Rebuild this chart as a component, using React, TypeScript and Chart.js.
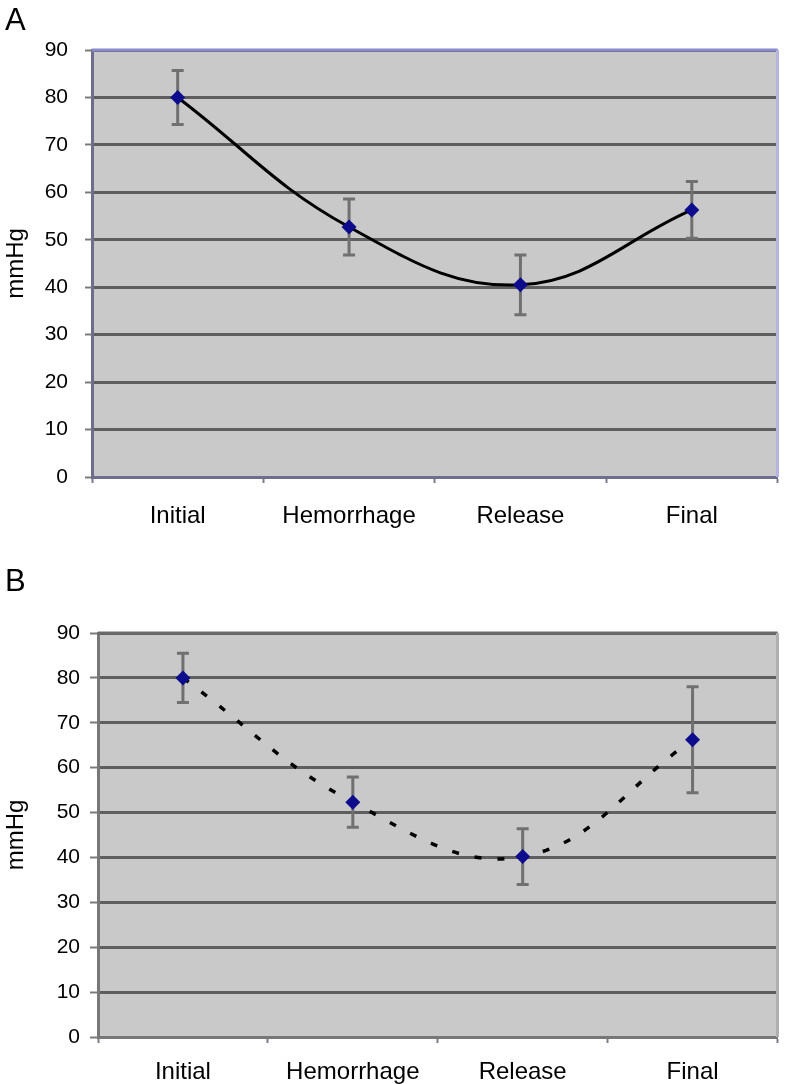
import React, { useEffect, useRef } from "react";
import { Chart, registerables } from "chart.js";
Chart.register(...registerables);

const categories = ["Initial", "Hemorrhage", "Release", "Final"];
const meanA = [80, 52.7, 40.5, 56.3];
const errA = [5.7, 5.9, 6.3, 6.0];
const meanB = [80, 52.3, 40.2, 66.2];
const errB = [5.5, 5.6, 6.2, 11.8];
const yMin = 0;
const yMax = 90;
const yStep = 10;
const yTitle = "mmHg";
const panelLabels = ["A", "B"];

const FONT = "'Liberation Sans', Arial, Helvetica, sans-serif";

const plotDeco = {
  id: "plotDeco",
  beforeDraw(chart: any, _args: any, opts: any) {
    const { ctx, chartArea: a } = chart;
    ctx.save();
    ctx.fillStyle = opts.bg;
    ctx.fillRect(a.left, a.top, a.right - a.left, a.bottom - a.top);
    ctx.restore();
  },
  beforeDatasetsDraw(chart: any, _args: any, opts: any) {
    const { ctx, chartArea: a } = chart;
    ctx.save();
    ctx.lineWidth = 3;
    ctx.strokeStyle = opts.topColor;
    ctx.beginPath();
    ctx.moveTo(a.left, a.top);
    ctx.lineTo(a.right, a.top);
    ctx.stroke();
    ctx.strokeStyle = opts.rightColor;
    ctx.beginPath();
    ctx.moveTo(a.right, a.top);
    ctx.lineTo(a.right, a.bottom);
    ctx.stroke();
    const meta = chart.getDatasetMeta(0);
    const ys = chart.scales.y;
    const means: number[] = chart.data.datasets[0].data;
    const errs: number[] = opts.errors;
    ctx.strokeStyle = "#707070";
    ctx.lineWidth = 3;
    const cap = 6;
    meta.data.forEach((pt: any, i: number) => {
      const x = pt.x;
      const yT = ys.getPixelForValue(means[i] + errs[i]);
      const yB = ys.getPixelForValue(means[i] - errs[i]);
      ctx.beginPath();
      ctx.moveTo(x, yT);
      ctx.lineTo(x, yB);
      ctx.moveTo(x - cap, yT);
      ctx.lineTo(x + cap, yT);
      ctx.moveTo(x - cap, yB);
      ctx.lineTo(x + cap, yB);
      ctx.stroke();
    });
    ctx.restore();
  },
};

type PanelProps = {
  means: number[];
  errors: number[];
  dashed: boolean;
  width: number;
  height: number;
  padTop: number;
  yAxisWidth: number;
  xAxisHeight: number;
  tickLen: number;
  tickPad: number;
  xLabelPad: number;
  axisColor: string;
  topColor: string;
  rightColor: string;
};

function Panel(p: PanelProps) {
  const ref = useRef<HTMLCanvasElement | null>(null);
  useEffect(() => {
    if (!ref.current) return;
    const chart = new Chart(ref.current, {
      type: "line",
      data: {
        labels: categories,
        datasets: [
          {
            data: p.means,
            borderColor: "#000000",
            borderWidth: p.dashed ? 3.5 : 3,
            borderDash: p.dashed ? [7, 16] : [],
            tension: 0.4,
            pointStyle: "rectRot",
            pointRadius: 7.5,
            pointBackgroundColor: "#0c0c8c",
            pointBorderColor: "#0c0c8c",
            pointBorderWidth: 0,
          },
        ],
      },
      options: {
        responsive: false,
        animation: false,
        layout: { padding: { top: p.padTop, right: 7, bottom: 0, left: 0 } },
        plugins: {
          legend: { display: false },
          tooltip: { enabled: false },
          plotDeco: {
            bg: "#c9c9c9",
            topColor: p.topColor,
            rightColor: p.rightColor,
            errors: p.errors,
          },
        } as any,
        scales: {
          x: {
            type: "category",
            offset: true,
            afterFit: (s: any) => {
              s.height = p.xAxisHeight;
            },
            grid: {
              offset: true,
              drawOnChartArea: false,
              drawTicks: true,
              tickLength: 6,
              tickColor: "#7a7a8a",
              tickWidth: 2,
            },
            border: { display: true, color: p.axisColor, width: 3 },
            ticks: {
              color: "#000",
              padding: p.xLabelPad,
              maxRotation: 0,
              font: { family: FONT, size: 24 },
            },
          },
          y: {
            min: yMin,
            max: yMax,
            afterFit: (s: any) => {
              s.width = p.yAxisWidth;
            },
            ticks: {
              stepSize: yStep,
              color: "#000",
              padding: p.tickPad,
              font: { family: FONT, size: 21 },
            },
            grid: {
              color: "#5e5e5e",
              lineWidth: 3,
              drawTicks: true,
              tickLength: p.tickLen,
              tickColor: "#7a7a7a",
              tickWidth: 2,
            },
            border: { display: true, color: p.axisColor, width: 3 },
            title: {
              display: true,
              text: yTitle,
              color: "#000",
              padding: { top: 2, bottom: 0 },
              font: { family: FONT, size: 24 },
            },
          },
        },
      },
      plugins: [plotDeco],
    } as any);
    return () => chart.destroy();
  }, []);
  return (
    <canvas
      ref={ref}
      width={p.width}
      height={p.height}
      style={{ display: "block", width: p.width, height: p.height }}
    />
  );
}

export default function App() {
  const labelStyle: React.CSSProperties = {
    position: "absolute",
    fontFamily: FONT,
    fontSize: 31,
    lineHeight: "normal",
    color: "#000",
  };
  return (
    <div
      style={{
        position: "absolute",
        left: 0,
        top: 0,
        width: 785,
        height: 1084,
        background: "#fff",
        overflow: "hidden",
      }}
    >
      <div style={{ position: "absolute", left: 0, top: 0 }}>
        <Panel
          means={meanA}
          errors={errA}
          dashed={false}
          width={785}
          height={545}
          padTop={50}
          yAxisWidth={92}
          xAxisHeight={68}
          tickLen={7}
          tickPad={17}
          xLabelPad={19}
          axisColor="#6e6e8c"
          topColor="#8a8ad0"
          rightColor="#b4b4e0"
        />
      </div>
      <div style={{ position: "absolute", left: 0, top: 545 }}>
        <Panel
          means={meanB}
          errors={errB}
          dashed={true}
          width={785}
          height={539}
          padTop={88}
          yAxisWidth={98}
          xAxisHeight={47}
          tickLen={8}
          tickPad={10}
          xLabelPad={15}
          axisColor="#777777"
          topColor="#6a6a6a"
          rightColor="#b0b0b0"
        />
      </div>
      <div style={{ ...labelStyle, left: 5, top: 2 }}>{panelLabels[0]}</div>
      <div style={{ ...labelStyle, left: 5, top: 563 }}>{panelLabels[1]}</div>
    </div>
  );
}
